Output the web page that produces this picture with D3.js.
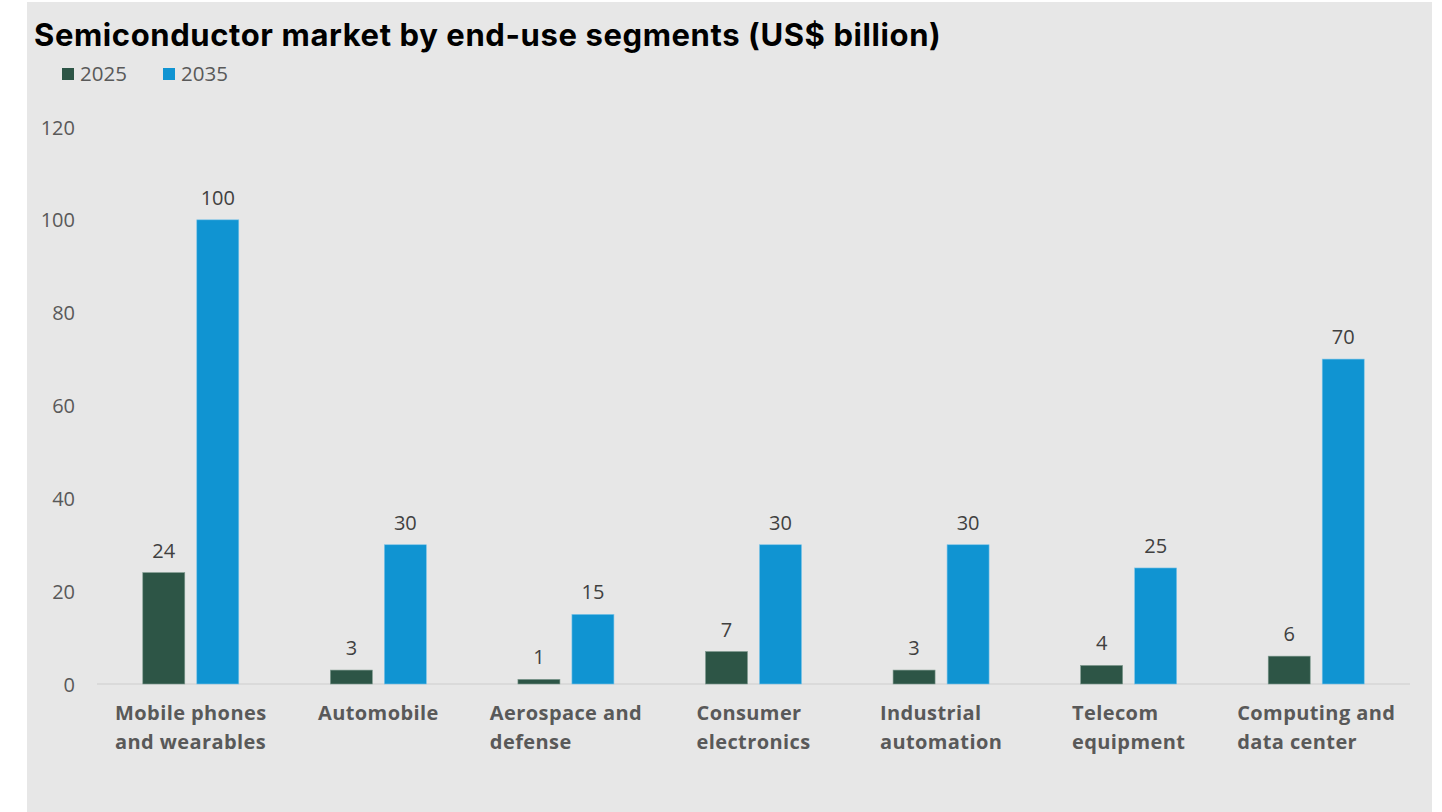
<!DOCTYPE html>
<html>
<head>
<meta charset="utf-8">
<script src="https://cdn.jsdelivr.net/npm/d3@7"></script>
<style>
  html, body { margin: 0; padding: 0; background: #ffffff; }
  svg { display: block; }
</style>
</head>
<body>
<svg id="chart" width="1442" height="812"></svg>
<script>
// Semiconductor market by end-use segment, 2025 vs 2035 (US$ billion)
const categories = [
  ["Mobile phones", "and wearables"],
  ["Automobile"],
  ["Aerospace and", "defense"],
  ["Consumer", "electronics"],
  ["Industrial", "automation"],
  ["Telecom", "equipment"],
  ["Computing and", "data center"]
];
const seriesNames = ["2025", "2035"];
const values2025 = [24, 3, 1, 7, 3, 4, 6];
const values2035 = [100, 30, 15, 30, 30, 25, 70];
const yTicks = [0, 20, 40, 60, 80, 100, 120];
const colors = ["#2d5546", "#1094d2"];

const svg = d3.select("#chart");
const W = 1442, H = 812;
const font = "'Open Sans', sans-serif";

// panel background
svg.append("rect").attr("x", 27).attr("y", 2).attr("width", 1405).attr("height", H - 2)
  .attr("fill", "#e7e7e7");

const margin = { left: 97, right: 1410, top: 127, bottom: 684 };

const x = d3.scaleBand()
  .domain(d3.range(categories.length))
  .range([margin.left, margin.right])
  .padding(0);

const y = d3.scaleLinear().domain([0, 120]).range([margin.bottom, margin.top]);

const barW = 42, gap = 12;
const series = [values2025, values2035];

// title
svg.append("text")
  .attr("x", 34).attr("y", 46)
  .attr("font-family", "Inter, 'Open Sans', sans-serif")
  .attr("font-weight", 700)
  .attr("font-size", 31)
  .attr("letter-spacing", 0.6)
  .attr("fill", "#000")
  .text("Semiconductor market by end-use segments (US$ billion)");

// legend
const legend = svg.append("g");
const legendX = [62, 163];
seriesNames.forEach((name, i) => {
  legend.append("rect").attr("x", legendX[i]).attr("y", 68).attr("width", 12).attr("height", 12)
    .attr("fill", colors[i]);
  legend.append("text").attr("x", legendX[i] + 18).attr("y", 81)
    .attr("font-family", font).attr("font-size", 20.5)
    .attr("fill", "#595959").text(name);
});

// y axis tick labels
const yAxis = d3.axisLeft(y).tickValues(yTicks).tickSize(0).tickPadding(0);
const yg = svg.append("g").attr("transform", "translate(75,0)").call(yAxis);
yg.select(".domain").remove();
yg.selectAll("text")
  .attr("font-family", font).attr("font-size", 20)
  .attr("fill", "#595959").attr("dy", "0.35em");

// baseline
svg.append("line")
  .attr("x1", margin.left).attr("x2", margin.right)
  .attr("y1", y(0)).attr("y2", y(0))
  .attr("stroke", "#d6d6d6").attr("stroke-width", 1.5);

// bars
series.forEach((vals, s) => {
  const g = svg.append("g");
  const offset = s === 0 ? -(gap / 2 + barW) : gap / 2;
  g.selectAll("rect").data(vals).join("rect")
    .attr("x", (d, i) => x(i) + x.bandwidth() / 2 + offset)
    .attr("y", d => y(d))
    .attr("width", barW)
    .attr("height", d => y(0) - y(d))
    .attr("fill", colors[s])
    .attr("stroke", s === 0 ? "#7f9a8f" : "#7cc4e8")
    .attr("stroke-width", 0.6);
  g.selectAll("text").data(vals).join("text")
    .attr("x", (d, i) => x(i) + x.bandwidth() / 2 + offset + barW / 2)
    .attr("y", d => y(d) - 15)
    .attr("text-anchor", "middle")
    .attr("font-family", font).attr("font-size", 20)
    .attr("fill", "#404040")
    .text(d => d);
});

// category labels: block centred under the group, lines left-aligned
const xAxis = d3.axisBottom(x).tickSize(0).tickFormat(() => "");
const xg = svg.append("g").attr("transform", `translate(0,${y(0)})`).call(xAxis);
xg.select(".domain").remove();
xg.selectAll(".tick").each(function(d) {
  const t = d3.select(this).append("text")
    .attr("text-anchor", "start")
    .attr("font-family", font)
    .attr("font-weight", 700)
    .attr("font-size", 20)
    .attr("letter-spacing", 0.4)
    .attr("fill", "#595959");
  const spans = categories[d].map((line, k) =>
    t.append("tspan").attr("y", 36 + k * 29).text(line));
  const maxW = d3.max(spans, s => s.node().getComputedTextLength());
  spans.forEach(s => s.attr("x", -maxW / 2));
});
</script>
</body>
</html>
